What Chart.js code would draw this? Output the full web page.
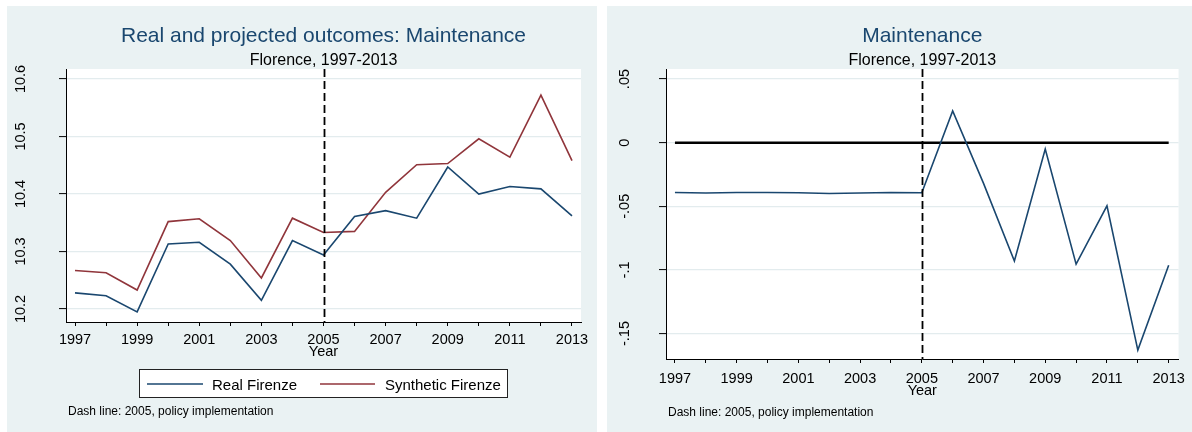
<!DOCTYPE html>
<html>
<head>
<meta charset="utf-8">
<script src="https://cdn.jsdelivr.net/npm/chart.js@4.4.0/dist/chart.umd.min.js"></script>
<style>
html,body{margin:0;padding:0;background:#fff;}
#wrap{position:relative;width:1192px;height:432px;overflow:hidden;}
canvas{position:absolute;top:0;}
#c1{left:0;}
#c2{left:600px;}
</style>
</head>
<body>
<div id="wrap">
<canvas id="c1" width="600" height="432"></canvas>
<canvas id="c2" width="592" height="432"></canvas>
</div>
<script>
// ---------------- data ----------------
const years = [1997,1998,1999,2000,2001,2002,2003,2004,2005,2006,2007,2008,2009,2010,2011,2012,2013];
const realFirenze = [10.228,10.223,10.195,10.313,10.316,10.278,10.215,10.319,10.294,10.361,10.371,10.358,10.447,10.400,10.413,10.409,10.362];
const syntheticFirenze = [10.267,10.263,10.233,10.352,10.357,10.319,10.254,10.358,10.333,10.335,10.403,10.451,10.453,10.496,10.464,10.572,10.458];
const gapMaintenance = [-0.0391,-0.0396,-0.0391,-0.0391,-0.0393,-0.0399,-0.0396,-0.0391,-0.0393,0.025,-0.032,-0.093,-0.005,-0.0955,-0.0497,-0.163,-0.0963];
const zeroLineYears = [1997, 2013];
const zeroLineValues = [0, 0];
const policyYear = 2005;
const xTickLabels = ['1997','','1999','','2001','','2003','','2005','','2007','','2009','','2011','','2013'];
const leftYTicks = [10.2,10.3,10.4,10.5,10.6];
const leftYTickLabels = ['10.2','10.3','10.4','10.5','10.6'];
const rightYTicks = [-0.15,-0.1,-0.05,0,0.05];
const rightYTickLabels = ['-.15','-.1','-.05','0','.05'];

// ---------------- styling ----------------
const FONT = "'Liberation Sans', Arial, Helvetica, sans-serif";
const NAVY = '#1a476f';
const MAROON = '#90353b';
const PANEL = '#eaf2f3';
const GRID = '#e3ecee';

const pts = (xs, ys) => xs.map((x, i) => ({x: x, y: ys[i]}));

const decor = {
  id: 'decor',
  beforeDraw(chart, args, o) {
    const ctx = chart.ctx, a = chart.chartArea;
    ctx.save();
    ctx.fillStyle = '#fff';
    ctx.fillRect(0, 0, chart.width, chart.height);
    ctx.fillStyle = PANEL;
    ctx.fillRect(o.panel[0], o.panel[1], o.panel[2], o.panel[3]);
    ctx.fillStyle = '#fff';
    ctx.fillRect(a.left, a.top, a.right - a.left, a.bottom - a.top);
    ctx.restore();
  },
  afterDatasetsDraw(chart, args, o) {
    const ctx = chart.ctx, a = chart.chartArea;
    const x = Math.round(chart.scales.x.getPixelForValue(o.policyYear)) + 0.5;
    ctx.save();
    ctx.strokeStyle = '#000';
    ctx.lineWidth = 1.8;
    ctx.setLineDash([8, 4]);
    ctx.beginPath();
    ctx.moveTo(x, a.top);
    ctx.lineTo(x, a.bottom);
    ctx.stroke();
    ctx.restore();
  },
  afterDraw(chart, args, o) {
    const ctx = chart.ctx, a = chart.chartArea;
    const cx = (a.left + a.right) / 2;
    ctx.save();
    // titles
    ctx.textAlign = 'center';
    ctx.textBaseline = 'alphabetic';
    ctx.fillStyle = NAVY;
    ctx.font = '21px ' + FONT;
    ctx.fillText(o.title, cx, 42);
    ctx.fillStyle = '#000';
    ctx.font = '16px ' + FONT;
    ctx.fillText(o.subtitle, cx, 65);
    // rotated y tick labels
    ctx.font = '14.5px ' + FONT;
    const ys = chart.scales.y;
    o.yTicks.forEach((v, i) => {
      const y = ys.getPixelForValue(v);
      ctx.save();
      ctx.translate(o.yLabelX, y);
      ctx.rotate(-Math.PI / 2);
      ctx.textAlign = 'center';
      ctx.fillText(o.yTickLabels[i], 0, 0);
      ctx.restore();
    });
    // note
    ctx.textAlign = 'left';
    ctx.font = '12px ' + FONT;
    ctx.fillText(o.note, 68, o.noteY);
    // legend
    if (o.legend) {
      const L = o.legend;
      ctx.fillStyle = '#fff';
      ctx.fillRect(L.box[0], L.box[1], L.box[2], L.box[3]);
      ctx.strokeStyle = '#222';
      ctx.lineWidth = 1;
      ctx.strokeRect(L.box[0] + 0.5, L.box[1] + 0.5, L.box[2], L.box[3]);
      ctx.font = '15px ' + FONT;
      L.items.forEach((it, i) => {
        const ds = chart.data.datasets[it.ds];
        ctx.strokeStyle = ds.borderColor;
        ctx.lineWidth = 1.6;
        ctx.beginPath();
        ctx.moveTo(it.x0, L.lineY);
        ctx.lineTo(it.x1, L.lineY);
        ctx.stroke();
        ctx.fillStyle = '#000';
        ctx.fillText(ds.label, it.tx, L.textY);
      });
    }
    ctx.restore();
  }
};

function makeOptions(cfg) {
  return {
    responsive: false,
    animation: false,
    devicePixelRatio: 1,
    events: [],
    layout: { padding: cfg.padding },
    elements: { point: { radius: 0 }, line: { tension: 0 } },
    plugins: {
      legend: { display: false },
      title: { display: false },
      tooltip: { enabled: false },
      decor: cfg.decor
    },
    scales: {
      x: {
        type: 'linear',
        min: cfg.xMin, max: cfg.xMax,
        afterBuildTicks: s => { s.ticks = years.map(v => ({value: v})); },
        afterFit: s => { s.height = cfg.xHeight; },
        ticks: {
          autoSkip: false, maxRotation: 0, minRotation: 0,
          padding: cfg.xTickPad, color: '#000',
          font: { family: FONT, size: 14.5 },
          callback: (v, i) => xTickLabels[i]
        },
        grid: { display: true, drawOnChartArea: false, drawTicks: true, tickLength: 4, tickColor: '#000', tickWidth: 1 },
        border: { display: true, color: '#000', width: 1 },
        title: { display: true, text: 'Year', color: '#000', font: { family: FONT, size: 14.5 }, padding: { top: 0, bottom: 0 } }
      },
      y: {
        type: 'linear',
        min: cfg.yMin, max: cfg.yMax,
        afterBuildTicks: s => { s.ticks = cfg.yTicks.map(v => ({value: v})); },
        afterFit: s => { s.width = 40; },
        ticks: { display: false },
        grid: { color: GRID, lineWidth: 1.2, drawTicks: true, tickLength: 7, tickColor: '#000', tickWidth: 1 },
        border: { display: true, color: '#000', width: 1 }
      }
    }
  };
}

new Chart(document.getElementById('c1'), {
  type: 'line',
  data: {
    datasets: [
      { label: 'Real Firenze', data: pts(years, realFirenze), borderColor: NAVY, borderWidth: 1.6, fill: false },
      { label: 'Synthetic Firenze', data: pts(years, syntheticFirenze), borderColor: MAROON, borderWidth: 1.6, fill: false }
    ]
  },
  options: makeOptions({
    padding: { top: 69, left: 26, right: 19, bottom: 71 },
    xMin: 1996.71, xMax: 2013.29, xHeight: 39, xTickPad: 5,
    yMin: 10.1774, yMax: 10.6174, yTicks: leftYTicks,
    decor: {
      panel: [7, 6, 590, 426],
      policyYear: policyYear,
      title: 'Real and projected outcomes: Maintenance',
      subtitle: 'Florence, 1997-2013',
      yTicks: leftYTicks, yTickLabels: leftYTickLabels, yLabelX: 25,
      note: 'Dash line: 2005, policy implementation', noteY: 415,
      legend: {
        box: [139, 369, 368, 28], lineY: 384, textY: 390,
        items: [ { ds: 0, x0: 147, x1: 203, tx: 212 }, { ds: 1, x0: 320, x1: 375, tx: 385 } ]
      }
    }
  }),
  plugins: [decor]
});

new Chart(document.getElementById('c2'), {
  type: 'line',
  data: {
    datasets: [
      { label: 'Gap', data: pts(years, gapMaintenance), borderColor: NAVY, borderWidth: 1.6, fill: false },
      { label: 'Zero', data: pts(zeroLineYears, zeroLineValues), borderColor: '#000', borderWidth: 2.6, fill: false }
    ]
  },
  options: makeOptions({
    padding: { top: 69, left: 26, right: 10, bottom: 32 },
    xMin: 1996.71, xMax: 2013.32, xHeight: 41, xTickPad: 7,
    yMin: -0.17, yMax: 0.0579, yTicks: rightYTicks,
    decor: {
      panel: [7, 6, 585, 426],
      policyYear: policyYear,
      title: 'Maintenance',
      subtitle: 'Florence, 1997-2013',
      yTicks: rightYTicks, yTickLabels: rightYTickLabels, yLabelX: 29,
      note: 'Dash line: 2005, policy implementation', noteY: 416,
      legend: null
    }
  }),
  plugins: [decor]
});
</script>
</body>
</html>
